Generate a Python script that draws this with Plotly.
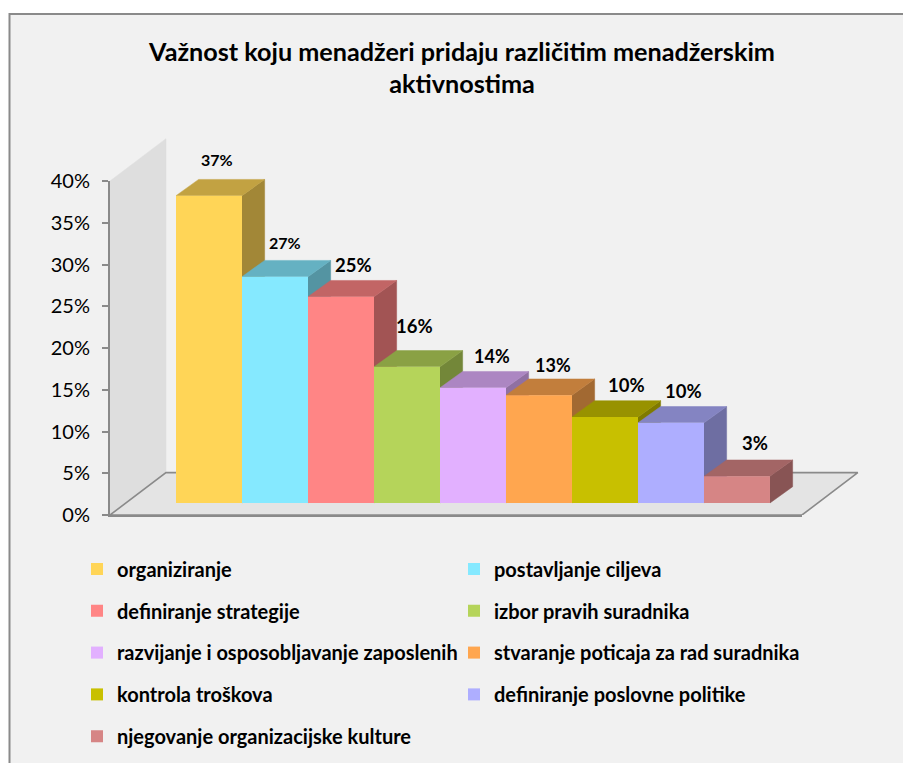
import plotly.graph_objects as go

TITLE = "Važnost koju menadžeri pridaju različitim menadžerskim<br>aktivnostima"
categories = ["organiziranje", "postavljanje ciljeva", "definiranje strategije",
              "izbor pravih suradnika", "razvijanje i osposobljavanje zaposlenih",
              "stvaranje poticaja za rad suradnika", "kontrola troškova",
              "definiranje poslovne politike", "njegovanje organizacijske kulture"]
values = [36.8, 27.1, 24.7, 16.3, 13.8, 12.9, 10.3, 9.6, 3.2]
labels = ["37%", "27%", "25%", "16%", "14%", "13%", "10%", "10%", "3%"]
colors = ["#FFD557", "#85E9FF", "#FF8585", "#B5D45A", "#E2B0FF",
          "#FFA64F", "#C8C000", "#AEAEFF", "#D68585"]
tick_values = [0, 5, 10, 15, 20, 25, 30, 35, 40]
tick_labels = ["0%", "5%", "10%", "15%", "20%", "25%", "30%", "35%", "40%"]

W, H = 903, 763
FONT = "Lato, sans-serif"
TEXT = "#000000"
GRAY = "#8A8A8A"
BASE = 1.44          # projected floor height of the bars' front edge, in axis units
DX, DY = 0.343, 1.95  # bar depth projected on the axes
WALL_DX, WALL_DY = 0.848, 5.07
X0, X1 = -1, 9.485
FLOOR_BACK_RIGHT = 10.33
X_EXT = 10.4
Y_EXT = 45.2
PX_X = 66
PX_Y = 8.35

label_shift = [(8, 36, 16), (10, 34, 16), (12, 32, 18.5), (7, 41, 18.5), (19, 32, 18),
               (14, 30, 18), (22, 32, 18.5), (13, 32, 18.5), (18, 33, 18.5)]


def shade(hex_color, k):
    r, g, b = (int(hex_color[i:i + 2], 16) for i in (1, 3, 5))
    return f"rgb({round(r * k)},{round(g * k)},{round(b * k)})"


def poly(xs, ys, fill, line=None):
    return go.Scatter(x=xs, y=ys, mode="lines", fill="toself", fillcolor=fill,
                      line=dict(color=line or fill, width=1.6 if line else 0.5),
                      hoverinfo="skip", showlegend=False, cliponaxis=False)


fig = go.Figure()
fig.add_trace(poly([X0, X0 + WALL_DX, X0 + WALL_DX, X0, X0], [0, WALL_DY, 40 + WALL_DY, 40, 0], "#DEDEDE"))
fig.add_trace(poly([X0, X1, FLOOR_BACK_RIGHT, X0 + WALL_DX, X0], [0, 0, WALL_DY, WALL_DY, 0], "#E4E4E4", GRAY))

for i, (v, c) in enumerate(zip(values, colors)):
    top = BASE + v
    fig.add_trace(poly([i + 1, i + 1 + DX, i + 1 + DX, i + 1, i + 1],
                       [BASE, BASE + DY, top + DY, top, BASE], shade(c, 0.635)))
    fig.add_trace(poly([i, i + DX, i + 1 + DX, i + 1, i],
                       [top, top + DY, top + DY, top, top], shade(c, 0.76)))

for i, (name, v, c) in enumerate(zip(categories, values, colors)):
    fig.add_trace(go.Bar(x=[i + 0.5], y=[v], base=BASE, width=1, name=name, xaxis="x2", yaxis="y2",
                         marker=dict(color=c, line=dict(width=0)), legend="legend" if i == 0 else f"legend{i + 1}",
                         hovertemplate="%{fullData.name}<extra></extra>"))

legends = {}
for i in range(len(categories)):
    col, row = i % 2, i // 2
    legends["legend" if i == 0 else f"legend{i + 1}"] = dict(
        x=(77 + col * 377) / W, y=1 - (569 + row * 41.8) / H, xanchor="left", yanchor="middle",
        bgcolor="rgba(0,0,0,0)", font=dict(family=FONT, size=20, color=TEXT, weight="bold"),
        itemclick=False, itemdoubleclick=False)

annotations = [dict(x=i + 0.5, y=BASE + v, text=f"<b>{t}</b>", xref="x2", yref="y2", showarrow=False,
                    xshift=s[0], yshift=s[1], font=dict(family=FONT, size=s[2], color=TEXT))
               for i, (v, t, s) in enumerate(zip(values, labels, label_shift))]

domain_x = [110 / W, 802 / W]
domain_y = [(H - 515) / H, (H - 181) / H]
fig.update_layout(
    width=W, height=H, autosize=False, margin=dict(l=0, r=0, t=0, b=0, autoexpand=False),
    paper_bgcolor="#FFFFFF", plot_bgcolor="rgba(0,0,0,0)", barmode="overlay",
    title=dict(text=f"<b>{TITLE}</b>", x=462 / W, xanchor="center", xref="paper",
               y=1 - 60.5 / H, yanchor="middle", yref="paper", font=dict(family=FONT, size=25.2, color=TEXT)),
    shapes=[dict(type="rect", xref="paper", yref="paper", x0=9.5 / W, x1=1.1, y0=-0.1, y1=1 - 14 / H,
                 fillcolor="#F1F1F1", line=dict(color="#8A8A8A", width=2), layer="below")],
    annotations=annotations,
    # Extended helper axes carrying the projected wall, floor and bar faces.
    xaxis=dict(domain=[110 / W, (110 + (X_EXT - X0) * PX_X) / W], range=[X0, X_EXT], visible=False),
    yaxis=dict(domain=[(H - 515) / H, (H - 515 + Y_EXT * PX_Y) / H], range=[0, Y_EXT], visible=False),
    # Visible value axis with the bars.
    xaxis2=dict(domain=domain_x, range=[X0, X1], anchor="y2", showgrid=False, zeroline=False,
                showticklabels=False, ticks="", showline=True, linecolor=GRAY, linewidth=2),
    yaxis2=dict(domain=domain_y, range=[0, 40], anchor="x2", tickvals=tick_values, ticktext=tick_labels,
                showgrid=False, zeroline=False, showline=True, linecolor=GRAY, linewidth=2,
                ticks="outside", ticklen=6, tickwidth=1.5, tickcolor=GRAY, ticklabelstandoff=8,
                tickfont=dict(family=FONT, size=20, color=TEXT)),
    **legends,
)
fig.write_html("out.html", config={"displayModeBar": False},
               post_script="document.body.style.margin='0';document.documentElement.style.overflow='hidden';")
